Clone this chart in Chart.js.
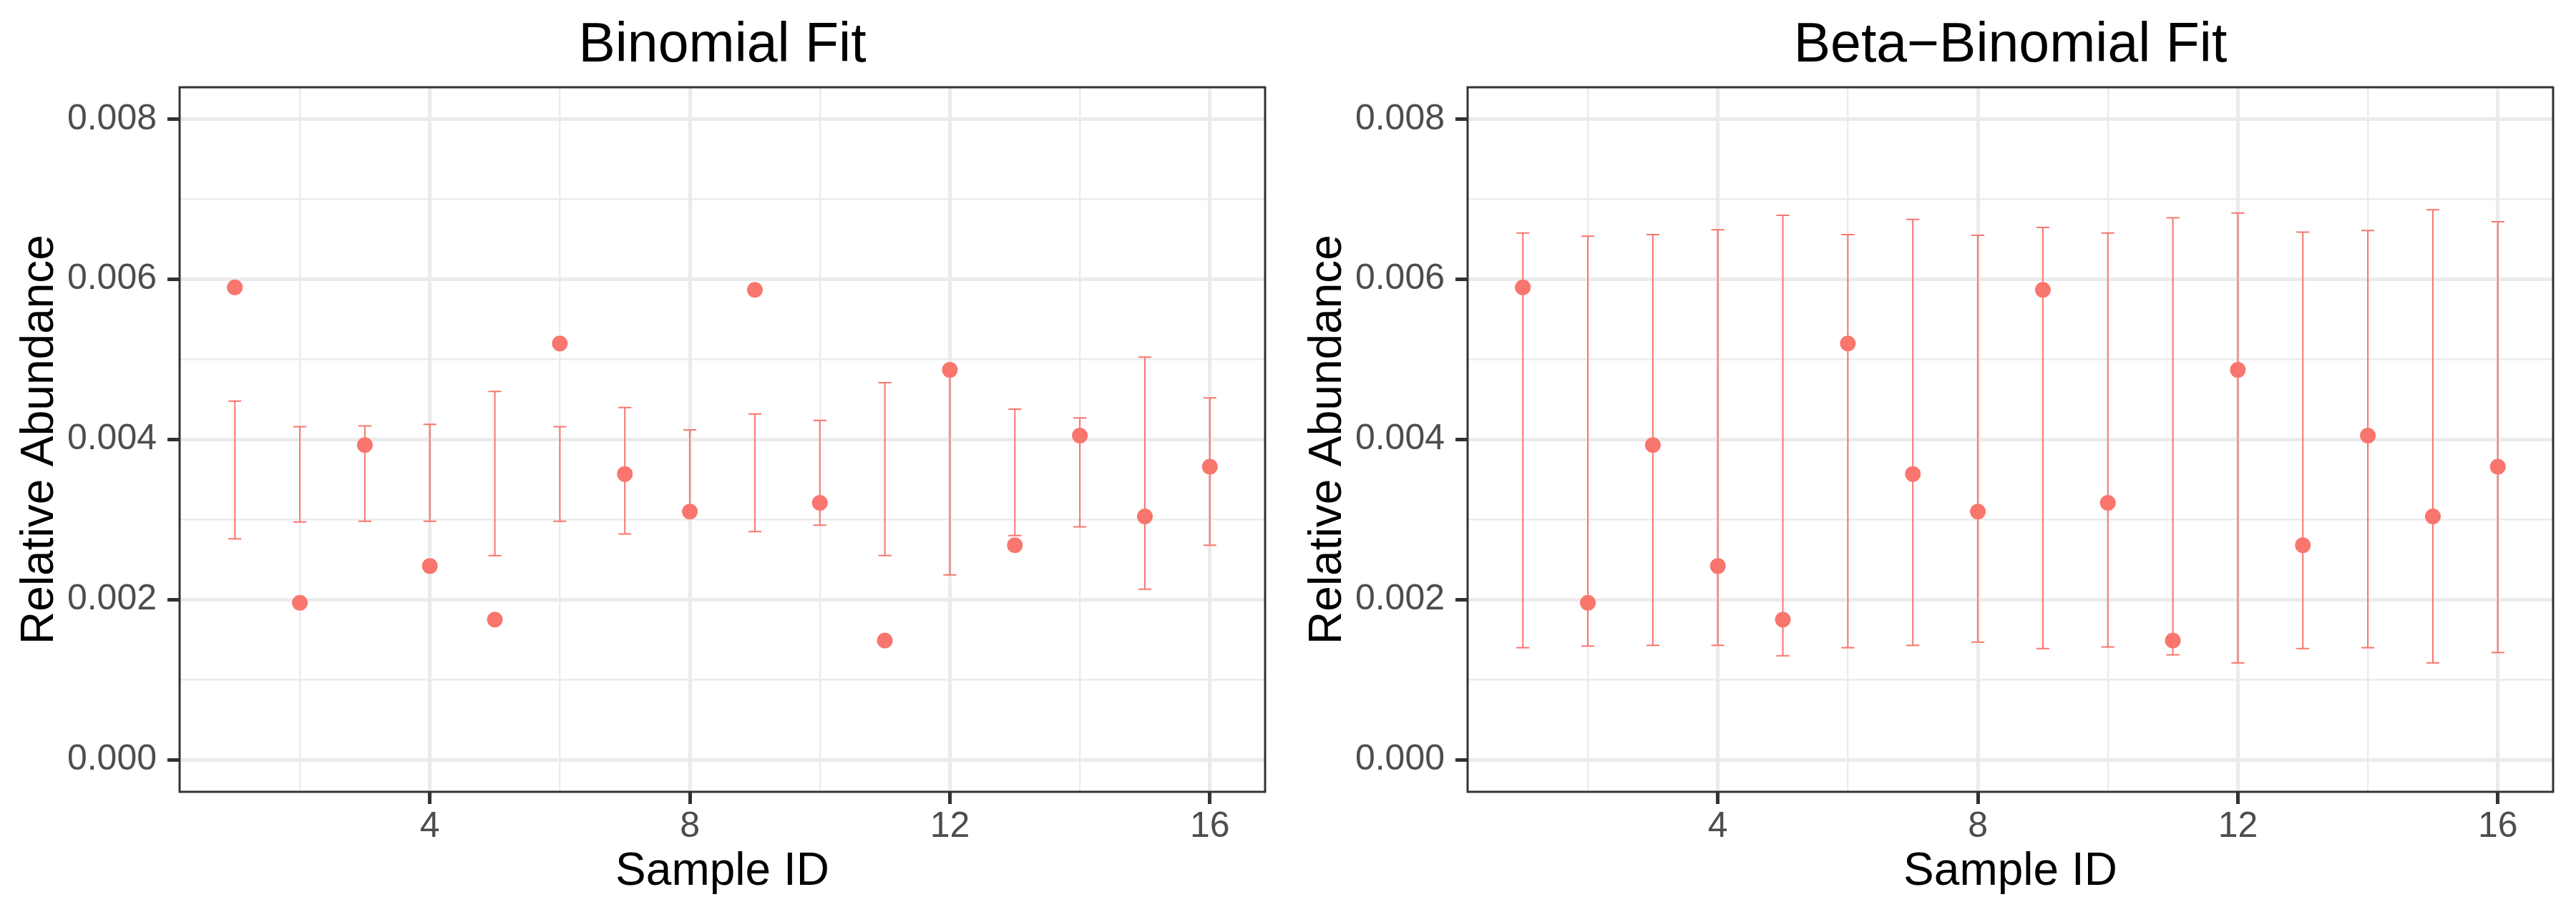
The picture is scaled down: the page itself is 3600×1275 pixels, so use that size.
<!DOCTYPE html>
<html>
<head>
<meta charset="utf-8">
<title>Binomial vs Beta-Binomial Fit</title>
<script src="https://cdn.jsdelivr.net/npm/chart.js@4.4.1/dist/chart.umd.min.js"></script>
<style>
  html, body { margin: 0; padding: 0; background: #FFFFFF; }
  #wrap { display: flex; width: 3600px; height: 1275px; }
  canvas { display: block; }
</style>
</head>
<body>
<div id="wrap">
  <canvas id="binomialChart" width="1800" height="1275"></canvas>
  <canvas id="betaBinomialChart" width="1800" height="1275"></canvas>
</div>
<script>
/**
 * Observed relative abundance per sample, with the expected interval
 * under a binomial model (left) and a beta-binomial model (right).
 */

// Sample IDs along the x axis
const sampleIds = [1, 2, 3, 4, 5, 6, 7, 8, 9, 10, 11, 12, 13, 14, 15, 16];

// Observed relative abundance (same in both panels)
const observed = [0.00590, 0.00196, 0.00393, 0.00242, 0.00175, 0.00520, 0.00357, 0.00310,
                  0.00587, 0.00321, 0.00149, 0.00487, 0.00268, 0.00405, 0.00304, 0.00366];

// Binomial fit interval
const binomLower = [0.00276, 0.00297, 0.00298, 0.00298, 0.00255, 0.00298, 0.00282, 0.00309,
                    0.00285, 0.00293, 0.00255, 0.00231, 0.00280, 0.00291, 0.00213, 0.00268];
const binomUpper = [0.00448, 0.00416, 0.00417, 0.00419, 0.00460, 0.00416, 0.00440, 0.00412,
                    0.00432, 0.00424, 0.00471, 0.00488, 0.00438, 0.00427, 0.00503, 0.00452];

// Beta-binomial fit interval
const betaLower = [0.00140, 0.00142, 0.00143, 0.00143, 0.00130, 0.00140, 0.00143, 0.00147,
                   0.00139, 0.00141, 0.00131, 0.00121, 0.00139, 0.00140, 0.00121, 0.00134];
const betaUpper = [0.00658, 0.00654, 0.00656, 0.00662, 0.00680, 0.00656, 0.00675, 0.00655,
                   0.00665, 0.00658, 0.00677, 0.00683, 0.00659, 0.00661, 0.00687, 0.00672];

// Axis ticks (major ones get labels and tick marks, the rest are minor grid lines)
const xTicks = [2, 4, 6, 8, 10, 12, 14, 16];
const xMajorTicks = [4, 8, 12, 16];
const yTicks = [0, 0.001, 0.002, 0.003, 0.004, 0.005, 0.006, 0.007, 0.008];
const yMajorTicks = [0, 0.002, 0.004, 0.006, 0.008];

const POINT_COLOR = '#F8766D';
const FONT = 'Liberation Sans';

Chart.defaults.font.family = FONT;

function isMajor(list, value) {
    return list.some(v => Math.abs(v - value) < 1e-9);
}

/**
 * Draws error bars (behind the points), then the panel border and title.
 */
const panelDecor = {
    id: 'panelDecor',
    beforeDatasetsDraw(chart) {
        const { ctx, scales: { x, y } } = chart;
        const ds = chart.data.datasets[0];
        ctx.save();
        ctx.strokeStyle = POINT_COLOR;
        ctx.lineWidth = 2;
        ds.data.forEach((pt, i) => {
            const px = x.getPixelForValue(pt.x);
            const left = x.getPixelForValue(pt.x - 0.1);
            const right = x.getPixelForValue(pt.x + 0.1);
            const lo = y.getPixelForValue(ds.errLow[i]);
            const hi = y.getPixelForValue(ds.errHigh[i]);
            ctx.beginPath();
            ctx.moveTo(px, lo);
            ctx.lineTo(px, hi);
            ctx.moveTo(left, lo);
            ctx.lineTo(right, lo);
            ctx.moveTo(left, hi);
            ctx.lineTo(right, hi);
            ctx.stroke();
        });
        ctx.restore();
    },
    afterDraw(chart, args, opts) {
        const { ctx, chartArea: a } = chart;
        ctx.save();
        ctx.strokeStyle = '#333333';
        ctx.lineWidth = 3;
        ctx.strokeRect(a.left, a.top, a.right - a.left, a.bottom - a.top);

        ctx.fillStyle = '#000000';
        ctx.font = `77px "${FONT}"`;
        ctx.textAlign = 'center';
        ctx.textBaseline = 'alphabetic';
        ctx.fillText(opts.title, (a.left + a.right) / 2, 86);
        ctx.restore();
    }
};

/**
 * Builds one panel.
 * @param {string} canvasId - target canvas
 * @param {string} title - panel title
 * @param {number[]} lower - lower interval bound per sample
 * @param {number[]} upper - upper interval bound per sample
 */
function createPanel(canvasId, title, lower, upper) {
    const ctx = document.getElementById(canvasId).getContext('2d');
    const points = sampleIds.map((id, i) => ({ x: id, y: observed[i] }));

    return new Chart(ctx, {
        type: 'scatter',
        data: {
            datasets: [{
                data: points,
                errLow: lower,
                errHigh: upper,
                backgroundColor: POINT_COLOR,
                borderWidth: 0,
                pointRadius: 11,
                pointHoverRadius: 11
            }]
        },
        options: {
            responsive: false,
            animation: false,
            devicePixelRatio: 1,
            events: [],
            layout: {
                padding: { top: 122, right: 32, bottom: 0, left: 0 }
            },
            plugins: {
                legend: { display: false },
                tooltip: { enabled: false },
                panelDecor: { title: title }
            },
            scales: {
                x: {
                    type: 'linear',
                    min: 0.15,
                    max: 16.85,
                    afterBuildTicks: (scale) => {
                        scale.ticks = xTicks.map(v => ({ value: v }));
                    },
                    afterFit: (scale) => { scale.height = 168; },
                    border: { display: false },
                    grid: {
                        color: '#EBEBEB',
                        lineWidth: (c) => (c.tick && isMajor(xMajorTicks, c.tick.value)) ? 5 : 2.5,
                        tickColor: (c) => (c.tick && isMajor(xMajorTicks, c.tick.value)) ? '#333333' : 'rgba(0,0,0,0)',
                        tickWidth: 5,
                        tickLength: 17
                    },
                    ticks: {
                        autoSkip: false,
                        maxRotation: 0,
                        padding: 2,
                        color: '#4D4D4D',
                        font: { size: 50 },
                        callback: (v) => isMajor(xMajorTicks, v) ? String(v) : ''
                    },
                    title: {
                        display: true,
                        text: 'Sample ID',
                        color: '#000000',
                        font: { size: 64 },
                        padding: { top: 0, bottom: 17 }
                    }
                },
                y: {
                    type: 'linear',
                    min: -0.0004,
                    max: 0.0084,
                    afterBuildTicks: (scale) => {
                        scale.ticks = yTicks.map(v => ({ value: v }));
                    },
                    afterFit: (scale) => { scale.width = 251; },
                    border: { display: false },
                    grid: {
                        color: '#EBEBEB',
                        lineWidth: (c) => (c.tick && isMajor(yMajorTicks, c.tick.value)) ? 5 : 2.5,
                        tickColor: (c) => (c.tick && isMajor(yMajorTicks, c.tick.value)) ? '#333333' : 'rgba(0,0,0,0)',
                        tickWidth: 5,
                        tickLength: 17
                    },
                    ticks: {
                        autoSkip: false,
                        padding: 15,
                        color: '#4D4D4D',
                        font: { size: 50 },
                        callback: (v) => isMajor(yMajorTicks, v) ? v.toFixed(3) : ''
                    },
                    title: {
                        display: true,
                        text: 'Relative Abundance',
                        color: '#000000',
                        font: { size: 64 },
                        padding: { top: 18, bottom: 0 }
                    }
                }
            }
        },
        plugins: [panelDecor]
    });
}

createPanel('binomialChart', 'Binomial Fit', binomLower, binomUpper);
createPanel('betaBinomialChart', 'Beta\u2212Binomial Fit', betaLower, betaUpper);
</script>
</body>
</html>
